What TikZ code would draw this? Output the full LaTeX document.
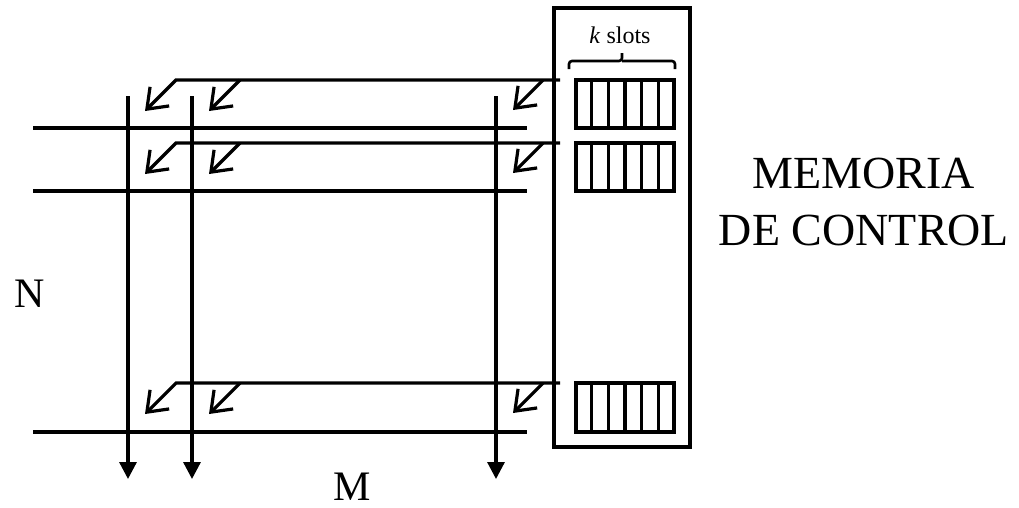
\documentclass[tikz,border=0pt]{standalone}
\usepackage{fontspec}
\setmainfont{Liberation Serif}
\usetikzlibrary{arrows.meta,calc}
\begin{document}
\begin{tikzpicture}[x=1pt,y=-1pt,
  wire/.style={line width=3.2pt},
  outline/.style={line width=3.2pt},
  colarrow/.style={wire,-{Triangle[length=17pt,width=17pt]}},
  setarrow/.style={line width=3.2pt,-{Straight Barb[length=18pt,width=27pt]}},
  biglabel/.style={font=\fontsize{42}{50}\selectfont,anchor=base,inner sep=0pt},
]
\useasboundingbox (0,0) rectangle (1019,507);

% control memory frame
\node[outline,draw,minimum width=136pt,minimum height=439pt,inner sep=0pt] (mem) at (622,227.5) {};

% row lines, set lines from memory, slot registers
\foreach \i/\c/\h in {1/80/128, 2/143/191, 3/383/432} {
  \coordinate (rowW\i) at (33,\h);
  \coordinate (rowE\i) at (527,\h);
  \draw[wire] (rowW\i) -- (rowE\i);
  \coordinate (ctlE\i) at (560,\c);
  \coordinate (ctlW\i) at (176,\c);
  \coordinate (ctlT\i) at (145,\c+31);
  \draw[setarrow,line join=miter] (ctlE\i) -- (ctlW\i) -- (ctlT\i);
  \coordinate (setA\i) at (240,\c);
  \coordinate (setAt\i) at (209,\c+31);
  \draw[setarrow] (setA\i) -- (setAt\i);
  \coordinate (setB\i) at (543,\c);
  \coordinate (setBt\i) at (513,\c+30);
  \draw[setarrow] (setB\i) -- (setBt\i);
  \node[outline,draw,minimum width=98pt,minimum height={\h-\c},inner sep=0pt] (reg\i) at (625,{(\c+\h)/2}) {};
  \foreach \k in {1,...,5}
    \draw[outline] ($(reg\i.north west)!{\k/6}!(reg\i.north east)$) -- ($(reg\i.south west)!{\k/6}!(reg\i.south east)$);
}

% column lines
\foreach \j/\x in {1/128, 2/192, 3/496} {
  \coordinate (colN\j) at (\x,96);
  \coordinate (colS\j) at (\x,479);
  \draw[colarrow] (colN\j) -- (colS\j);
}

% slot brace
\draw[line width=2.6pt,rounded corners=3pt] (569,69) |- (622,61) -- (622,53);
\draw[line width=2.6pt,rounded corners=3pt] (675,69) |- (622,61);
\node[anchor=base,inner sep=0pt,font=\fontsize{24}{28}\selectfont] (kslots) at (620,43) {\textit{k} slots};

% labels
\node[biglabel] (nlab) at (30,307) {N};
\node[biglabel] (mlab) at (352,500) {M};
\node[biglabel,font=\fontsize{46}{57}\selectfont,align=center] (memlab) at (864,245) {MEMORIA\\DE CONTROL};
\end{tikzpicture}
\end{document}
